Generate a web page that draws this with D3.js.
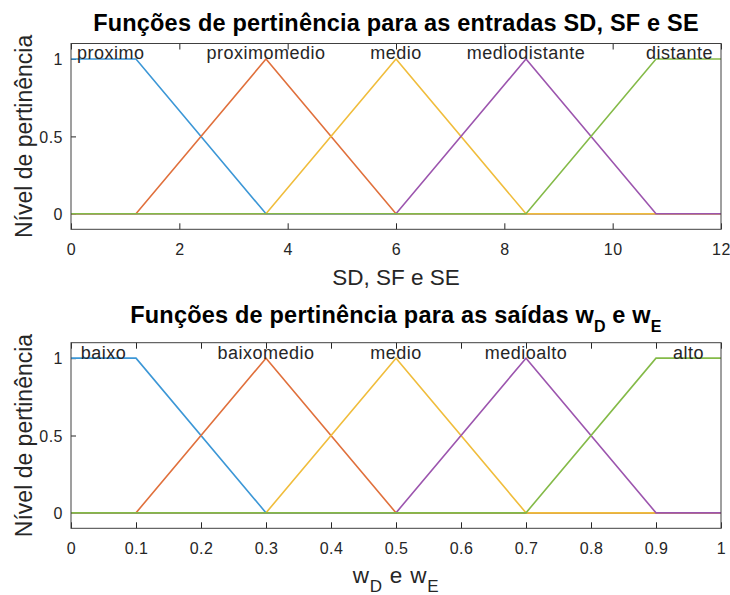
<!DOCTYPE html>
<html>
<head>
<meta charset="utf-8">
<script src="https://cdn.jsdelivr.net/npm/d3@7"></script>
<style>
  body { margin: 0; background: #fff; }
  svg { display: block; font-family: "Liberation Sans", Arial, Helvetica, sans-serif; }
  .tick text { fill: #262626; font-size: 16px; letter-spacing: 0.5px; }
  .tick line { stroke: #262626; }
</style>
</head>
<body>
<svg id="chart" width="730" height="595"></svg>
<script>
// input membership functions (SD, SF, SE), breakpoints and degree values
const inputLabels = ['proximo', 'proximomedio', 'medio', 'mediodistante', 'distante'];
const inputX = [
    [0, 1.2, 3.6, 12],
    [0, 1.2, 3.6, 6, 12],
    [0, 3.6, 6, 8.4, 12],
    [0, 6, 8.4, 10.8, 12],
    [0, 8.4, 10.8, 12]
];
const inputY = [
    [1, 1, 0, 0],
    [0, 0, 1, 0, 0],
    [0, 0, 1, 0, 0],
    [0, 0, 1, 0, 0],
    [0, 0, 1, 1]
];
const inputTicks = [0, 2, 4, 6, 8, 10, 12];

// output membership functions (wD, wE)
const outputLabels = ['baixo', 'baixomedio', 'medio', 'medioalto', 'alto'];
const outputX = [
    [0, 0.1, 0.3, 1],
    [0, 0.1, 0.3, 0.5, 1],
    [0, 0.3, 0.5, 0.7, 1],
    [0, 0.5, 0.7, 0.9, 1],
    [0, 0.7, 0.9, 1]
];
const outputY = [
    [1, 1, 0, 0],
    [0, 0, 1, 0, 0],
    [0, 0, 1, 0, 0],
    [0, 0, 1, 0, 0],
    [0, 0, 1, 1]
];
const outputTicks = [0, 0.1, 0.2, 0.3, 0.4, 0.5, 0.6, 0.7, 0.8, 0.9, 1];

const yTicks = [0, 0.5, 1];
const COLORS = ['#3c97d6', '#e0703c', '#f0bd3c', '#9c55ae', '#84ba48'];
const TEXT = '#262626';

const svg = d3.select('#chart');

function drawPanel(opts) {
    const { top, bottom, xDomain, xs, ys, labels, ticks } = opts;
    const left = 71, right = 721;

    const x = d3.scaleLinear().domain(xDomain).range([left, right]);
    const y = d3.scaleLinear().domain([-0.1, 1.1]).range([bottom, top]);
    const g = svg.append('g');

    // inward ticks, bottom with labels, top mirrored
    const xAxis = g.append('g')
        .attr('transform', `translate(0,${bottom})`)
        .call(d3.axisBottom(x).tickValues(ticks).tickSize(-6).tickPadding(0).tickFormat(d3.format('')));
    xAxis.selectAll('text').attr('y', 26).attr('dy', null);

    g.append('g')
        .attr('transform', `translate(0,${top})`)
        .call(d3.axisTop(x).tickValues(ticks).tickSize(-6).tickFormat(''));

    const yAxis = g.append('g')
        .attr('transform', `translate(${left},0)`)
        .call(d3.axisLeft(y).tickValues(yTicks).tickSize(-5).tickPadding(8).tickFormat(d3.format('')));
    yAxis.selectAll('text').attr('dy', '0.36em');

    g.selectAll('.domain').remove();
    g.selectAll('.tick text').attr('fill', TEXT);

    // membership curves
    const line = d3.line().x(d => x(d[0])).y(d => y(d[1]));
    xs.forEach((xv, i) => {
        const pts = xv.map((v, j) => [v, ys[i][j]]);
        g.append('path')
            .attr('d', line(pts))
            .attr('fill', 'none')
            .attr('stroke', COLORS[i])
            .attr('stroke-width', 1.6);
    });

    // box
    g.append('rect')
        .attr('x', left).attr('y', top)
        .attr('width', right - left).attr('height', bottom - top)
        .attr('fill', 'none')
        .attr('stroke', '#404040')
        .attr('stroke-width', 1);

    // mf names at the centre of each plateau, kept inside the axes
    labels.forEach((name, i) => {
        const peak = xs[i].filter((v, j) => ys[i][j] === 1);
        const cx = x(d3.mean([d3.min(peak), d3.max(peak)]));
        const t = g.append('text')
            .attr('y', y(1) + 0.5)
            .attr('font-size', 18)
            .attr('letter-spacing', 0.5)
            .attr('fill', TEXT)
            .text(name);
        const w = t.node().getComputedTextLength();
        const lx = Math.min(Math.max(cx - w / 2, left + 6), right - 8 - w);
        t.attr('x', lx);
    });

    return g;
}

drawPanel({ top: 43.5, bottom: 229.3, xDomain: [0, 12], xs: inputX, ys: inputY, labels: inputLabels, ticks: inputTicks });
drawPanel({ top: 342.7, bottom: 528.3, xDomain: [0, 1], xs: outputX, ys: outputY, labels: outputLabels, ticks: outputTicks });

// titles
svg.append('text')
    .attr('x', 396).attr('y', 31)
    .attr('text-anchor', 'middle')
    .attr('font-size', 23.5).attr('font-weight', 'bold').attr('fill', '#000')
    .attr('letter-spacing', 0.2)
    .text('Funções de pertinência para as entradas SD, SF e SE');

const t2 = svg.append('text')
    .attr('x', 396).attr('y', 323)
    .attr('text-anchor', 'middle')
    .attr('font-size', 23.5).attr('font-weight', 'bold').attr('fill', '#000')
    .attr('letter-spacing', 0.2);
t2.append('tspan').text('Funções de pertinência para as saídas w');
t2.append('tspan').attr('dy', 9).attr('font-size', 16).text('D');
t2.append('tspan').attr('dy', -9).text(' e w');
t2.append('tspan').attr('dy', 9).attr('font-size', 16).text('E');

// axis labels
svg.append('text')
    .attr('x', 396).attr('y', 285)
    .attr('text-anchor', 'middle')
    .attr('font-size', 22.5).attr('fill', TEXT)
    .text('SD, SF e SE');

const xl2 = svg.append('text')
    .attr('x', 396).attr('y', 583)
    .attr('text-anchor', 'middle')
    .attr('font-size', 22.5).attr('fill', TEXT)
    .attr('letter-spacing', 0.8);
xl2.append('tspan').text('w');
xl2.append('tspan').attr('dy', 9).attr('font-size', 17).text('D');
xl2.append('tspan').attr('dy', -9).text(' e w');
xl2.append('tspan').attr('dy', 9).attr('font-size', 17).text('E');

[136.4, 435.5].forEach(cy => {
    svg.append('text')
        .attr('transform', `translate(32,${cy}) rotate(-90)`)
        .attr('text-anchor', 'middle')
        .attr('font-size', 23).attr('fill', TEXT)
        .text('Nível de pertinência');
});
</script>
</body>
</html>
